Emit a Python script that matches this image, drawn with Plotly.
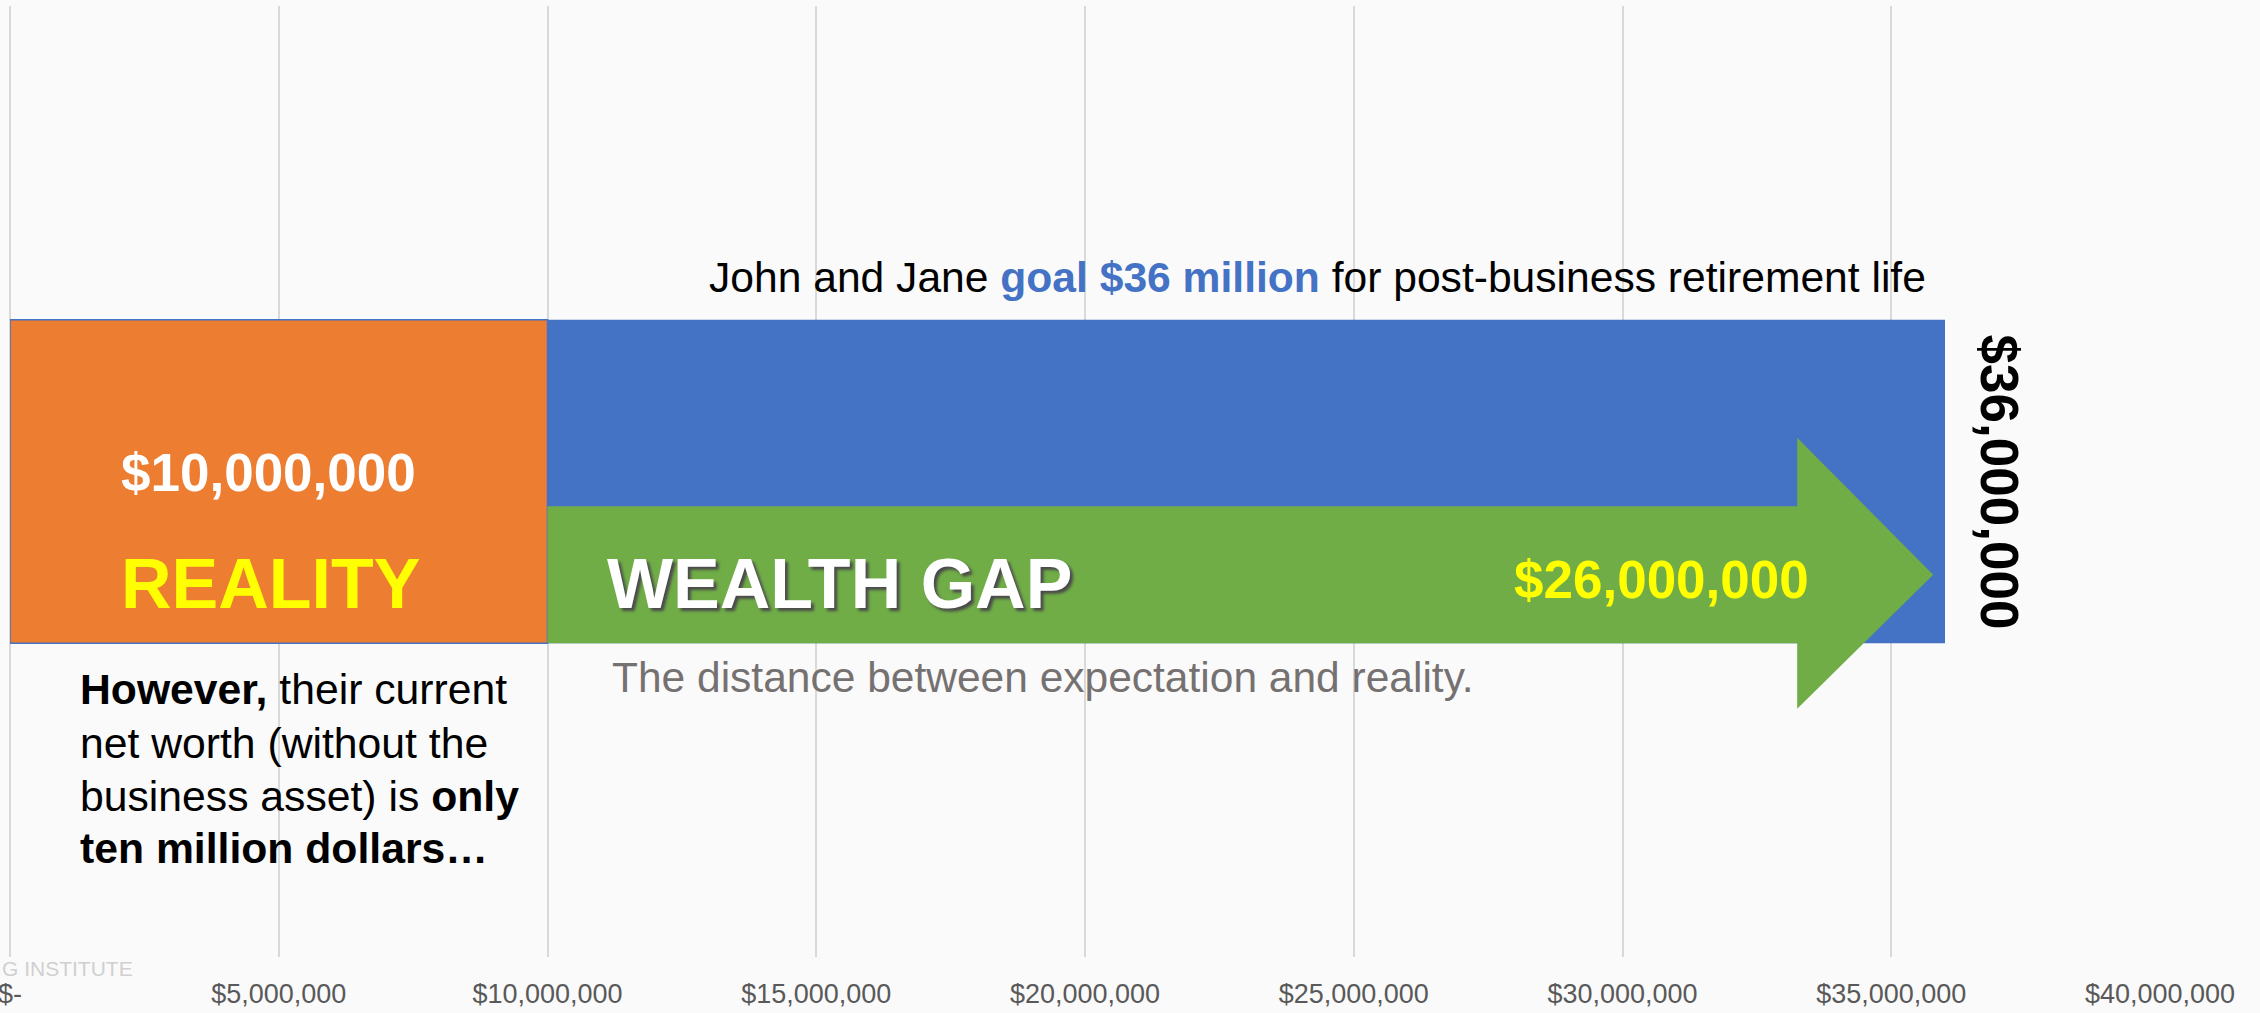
import plotly.graph_objects as go

# ---- data ----
categories = ["Reality", "Wealth gap", "Goal"]
reality_value = 10_000_000
goal_value = 36_000_000
gap_value = goal_value - reality_value
tick_values = [0, 5_000_000, 10_000_000, 15_000_000, 20_000_000,
               25_000_000, 30_000_000, 35_000_000, 40_000_000]
tick_labels = ["$-", "$5,000,000", "$10,000,000", "$15,000,000", "$20,000,000",
               "$25,000,000", "$30,000,000", "$35,000,000", "$40,000,000"]
note_lines = ["<b>However,</b> their current",
              "net worth (without the",
              "business asset) is <b>only</b>",
              "<b>ten million dollars…</b>"]

# ---- style ----
ORANGE = "#ED7D31"
BLUE = "#4472C4"
GREEN = "#70AD47"
YELLOW = "#FFFF00"
BG = "#FAFAFA"
SANS = "Liberation Sans, Arial, sans-serif"

BAR_Y = 0.5
BAR_W = 0.34
ARROW_HEAD_LEN = 2_530_000
ARROW_TIP_INSET = 220_000
ARROW_BODY = (0.330, 0.474)
ARROW_HEAD = (0.261, 0.546)
NOTE_Y = [0.2813, 0.2255, 0.1697, 0.1149]

fig = go.Figure()

# goal bar (blue), behind
fig.add_trace(go.Bar(
    x=[goal_value], y=[BAR_Y], base=[0], orientation="h", width=BAR_W,
    marker=dict(color=BLUE, line=dict(width=0)), hoverinfo="skip", name=categories[2]))
# reality bar (orange)
fig.add_trace(go.Bar(
    x=[reality_value], y=[BAR_Y], base=[0], orientation="h", width=BAR_W,
    marker=dict(color=ORANGE, line=dict(color=BLUE, width=1.5)), hoverinfo="skip",
    name=categories[0]))

# wealth-gap arrow (green), from reality to goal
tip = reality_value + gap_value - ARROW_TIP_INSET
head_base = tip - ARROW_HEAD_LEN
tip_y = (ARROW_BODY[0] + ARROW_BODY[1]) / 2
ax = [reality_value, head_base, head_base, tip, head_base, head_base, reality_value, reality_value]
ay = [ARROW_BODY[0], ARROW_BODY[0], ARROW_HEAD[0], tip_y, ARROW_HEAD[1], ARROW_BODY[1],
      ARROW_BODY[1], ARROW_BODY[0]]
fig.add_trace(go.Scatter(
    x=ax, y=ay, mode="lines", fill="toself", fillcolor=GREEN,
    line=dict(width=0, color=GREEN), hoverinfo="skip", name=categories[1]))

ann = []
ann.append(dict(
    x=35_680_000, y=0.715, xanchor="right", yanchor="middle", showarrow=False,
    text="John and Jane <b><span style='color:#4472C4'>goal $36 million</span></b> for post-business retirement life",
    font=dict(family=SANS, size=42.6, color="#000000")))
ann.append(dict(
    x=4_800_000, y=0.509, showarrow=False, text="<b>$10,000,000</b>",
    font=dict(family=SANS, size=53, color="#FFFFFF")))
ann.append(dict(
    x=4_840_000, y=0.392, showarrow=False, text="<b>REALITY</b>",
    font=dict(family=SANS, size=70, color=YELLOW)))
ann.append(dict(
    x=11_070_000, y=0.392, xanchor="left", showarrow=False, text="<b>WEALTH GAP</b>",
    font=dict(family=SANS, size=70, color="#FFFFFF", shadow="3px 3px 3px #4a4a4a")))
ann.append(dict(
    x=30_730_000, y=0.397, showarrow=False, text="<b>$26,000,000</b>",
    font=dict(family=SANS, size=53, color=YELLOW)))
ann.append(dict(
    x=11_160_000, y=0.294, xanchor="left", showarrow=False,
    text="The distance between expectation and reality.",
    font=dict(family=SANS, size=42.5, color="#767171")))
ann.append(dict(
    x=37_020_000, y=0.499, showarrow=False, textangle=90, text="<b>$36,000,000</b>",
    font=dict(family=SANS, size=53, color="#000000")))
for line, ly in zip(note_lines, NOTE_Y):
    ann.append(dict(
        x=1_270_000, y=ly, xanchor="left", yanchor="middle", align="left", showarrow=False,
        text=line, font=dict(family=SANS, size=42.7, color="#000000")))
ann.append(dict(
    xref="paper", yref="paper", x=-0.0047, y=-0.0116, xanchor="left", yanchor="middle",
    showarrow=False, text="G INSTITUTE",
    font=dict(family=SANS, size=21, color="#D0D0D0")))

fig.update_layout(
    width=2260, height=1013,
    margin=dict(l=10, r=100, t=6, b=56, autoexpand=False),
    paper_bgcolor=BG, plot_bgcolor=BG,
    barmode="overlay", showlegend=False,
    annotations=ann,
    xaxis=dict(range=[0, 40_000_000], tickvals=tick_values, ticktext=tick_labels,
               showgrid=True, gridcolor="#D9D9D9", gridwidth=1.5,
               zeroline=True, zerolinecolor="#D9D9D9", zerolinewidth=1.5,
               showline=False, ticks="", ticklabelstandoff=18, automargin=False,
               ticklabeloverflow="allow",
               tickfont=dict(family=SANS, size=27, color="#595959")),
    yaxis=dict(range=[0, 1], visible=False, showgrid=False, zeroline=False),
)

fig.write_html("out.html",
               config={"displayModeBar": False},
               post_script="document.body.style.margin='0';document.body.style.background='#FAFAFA';")
